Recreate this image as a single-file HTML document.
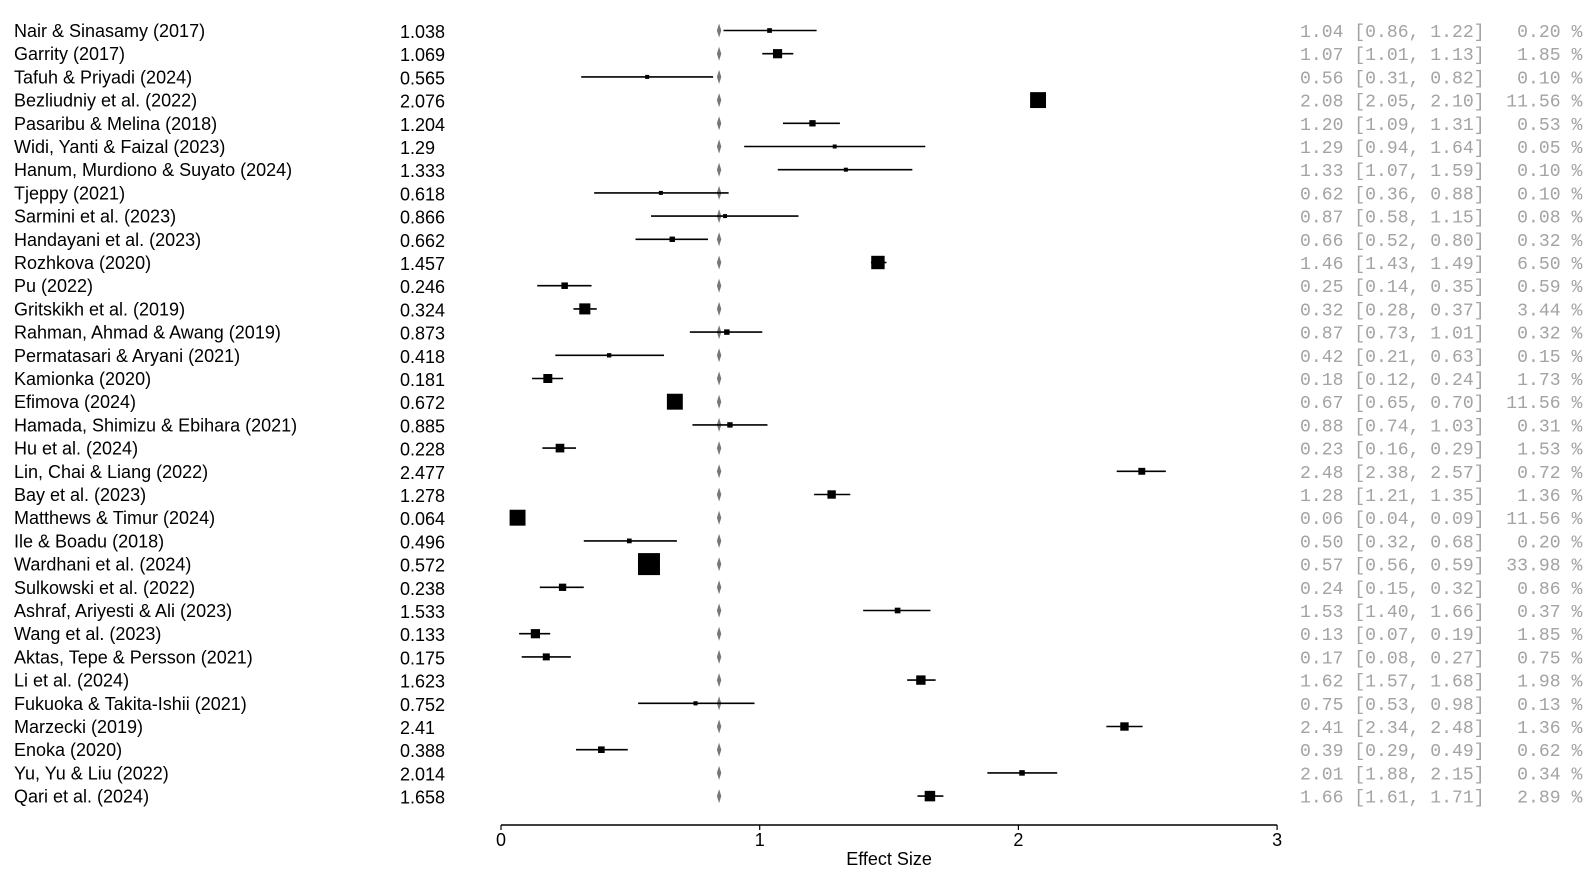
<!DOCTYPE html>
<html><head><meta charset="utf-8"><style>
html,body{margin:0;padding:0;background:#fff;}
svg{display:block;}
.n{font-family:"Liberation Sans",Arial,sans-serif;font-size:18px;fill:#000;}
.r{font-family:"Liberation Mono","Courier New",monospace;font-size:18.1px;fill:#a3a3a3;white-space:pre;}
</style></head><body>
<svg id="s" width="1595" height="877" xmlns="http://www.w3.org/2000/svg"></svg>
<script>
const D=[
["Nair & Sinasamy (2017)","1.038",1.038,0.86,1.22,0.20,"1.04 [0.86, 1.22]   0.20 %"],
["Garrity (2017)","1.069",1.069,1.01,1.13,1.85,"1.07 [1.01, 1.13]   1.85 %"],
["Tafuh & Priyadi (2024)","0.565",0.565,0.31,0.82,0.10,"0.56 [0.31, 0.82]   0.10 %"],
["Bezliudniy et al. (2022)","2.076",2.076,2.05,2.10,11.56,"2.08 [2.05, 2.10]  11.56 %"],
["Pasaribu & Melina (2018)","1.204",1.204,1.09,1.31,0.53,"1.20 [1.09, 1.31]   0.53 %"],
["Widi, Yanti & Faizal (2023)","1.29",1.29,0.94,1.64,0.05,"1.29 [0.94, 1.64]   0.05 %"],
["Hanum, Murdiono & Suyato (2024)","1.333",1.333,1.07,1.59,0.10,"1.33 [1.07, 1.59]   0.10 %"],
["Tjeppy (2021)","0.618",0.618,0.36,0.88,0.10,"0.62 [0.36, 0.88]   0.10 %"],
["Sarmini et al. (2023)","0.866",0.866,0.58,1.15,0.08,"0.87 [0.58, 1.15]   0.08 %"],
["Handayani et al. (2023)","0.662",0.662,0.52,0.80,0.32,"0.66 [0.52, 0.80]   0.32 %"],
["Rozhkova (2020)","1.457",1.457,1.43,1.49,6.50,"1.46 [1.43, 1.49]   6.50 %"],
["Pu (2022)","0.246",0.246,0.14,0.35,0.59,"0.25 [0.14, 0.35]   0.59 %"],
["Gritskikh et al. (2019)","0.324",0.324,0.28,0.37,3.44,"0.32 [0.28, 0.37]   3.44 %"],
["Rahman, Ahmad & Awang (2019)","0.873",0.873,0.73,1.01,0.32,"0.87 [0.73, 1.01]   0.32 %"],
["Permatasari & Aryani (2021)","0.418",0.418,0.21,0.63,0.15,"0.42 [0.21, 0.63]   0.15 %"],
["Kamionka (2020)","0.181",0.181,0.12,0.24,1.73,"0.18 [0.12, 0.24]   1.73 %"],
["Efimova (2024)","0.672",0.672,0.65,0.70,11.56,"0.67 [0.65, 0.70]  11.56 %"],
["Hamada, Shimizu & Ebihara (2021)","0.885",0.885,0.74,1.03,0.31,"0.88 [0.74, 1.03]   0.31 %"],
["Hu et al. (2024)","0.228",0.228,0.16,0.29,1.53,"0.23 [0.16, 0.29]   1.53 %"],
["Lin, Chai & Liang (2022)","2.477",2.477,2.38,2.57,0.72,"2.48 [2.38, 2.57]   0.72 %"],
["Bay et al. (2023)","1.278",1.278,1.21,1.35,1.36,"1.28 [1.21, 1.35]   1.36 %"],
["Matthews & Timur (2024)","0.064",0.064,0.04,0.09,11.56,"0.06 [0.04, 0.09]  11.56 %"],
["Ile & Boadu (2018)","0.496",0.496,0.32,0.68,0.20,"0.50 [0.32, 0.68]   0.20 %"],
["Wardhani et al. (2024)","0.572",0.572,0.56,0.59,33.98,"0.57 [0.56, 0.59]  33.98 %"],
["Sulkowski et al. (2022)","0.238",0.238,0.15,0.32,0.86,"0.24 [0.15, 0.32]   0.86 %"],
["Ashraf, Ariyesti & Ali (2023)","1.533",1.533,1.40,1.66,0.37,"1.53 [1.40, 1.66]   0.37 %"],
["Wang et al. (2023)","0.133",0.133,0.07,0.19,1.85,"0.13 [0.07, 0.19]   1.85 %"],
["Aktas, Tepe & Persson (2021)","0.175",0.175,0.08,0.27,0.75,"0.17 [0.08, 0.27]   0.75 %"],
["Li et al. (2024)","1.623",1.623,1.57,1.68,1.98,"1.62 [1.57, 1.68]   1.98 %"],
["Fukuoka & Takita-Ishii (2021)","0.752",0.752,0.53,0.98,0.13,"0.75 [0.53, 0.98]   0.13 %"],
["Marzecki (2019)","2.41",2.41,2.34,2.48,1.36,"2.41 [2.34, 2.48]   1.36 %"],
["Enoka (2020)","0.388",0.388,0.29,0.49,0.62,"0.39 [0.29, 0.49]   0.62 %"],
["Yu, Yu & Liu (2022)","2.014",2.014,1.88,2.15,0.34,"2.01 [1.88, 2.15]   0.34 %"],
["Qari et al. (2024)","1.658",1.658,1.61,1.71,2.89,"1.66 [1.61, 1.71]   2.89 %"]
];
const X=v=>501+v*258.7, Y=i=>30.5+i*23.2;
let h='';
const dx=X(0.843);
D.forEach((d,i)=>{
 const y=Y(i);
 h+=`<text class="n" x="14" y="${y+6.5}">${d[0].replace(/&/g,'&amp;')}</text>`;
 h+=`<text class="n" x="400" y="${y+7.5}">${d[1]}</text>`;
 h+=`<text class="r" x="1300" y="${y+6.5}">${d[6]}</text>`;
 h+=`<polygon points="${dx},${y-7} ${dx+2.2},${y} ${dx},${y+7} ${dx-2.2},${y}" fill="#777"/>`;
 h+=`<line x1="${X(d[3])}" x2="${X(d[4])}" y1="${y}" y2="${y}" stroke="#000" stroke-width="1.6"/>`;
 let s=Math.max(4,22*Math.pow(d[5]/33.98,0.3));
 h+=`<rect x="${X(d[2])-s/2}" y="${y-s/2}" width="${s}" height="${s}" fill="#000"/>`;
});
h+=`<line x1="${X(0)}" x2="${X(3)}" y1="825" y2="825" stroke="#000" stroke-width="1.5"/>`;
[0,1,2,3].forEach(t=>{
 h+=`<line x1="${X(t)}" x2="${X(t)}" y1="825" y2="830" stroke="#000" stroke-width="1.2"/>`;
 h+=`<text class="n" x="${X(t)}" y="846" text-anchor="middle">${t}</text>`;
});
h+=`<text class="n" x="${X(1.5)}" y="865" text-anchor="middle">Effect Size</text>`;
document.getElementById('s').innerHTML=h;
</script>
</body></html>
